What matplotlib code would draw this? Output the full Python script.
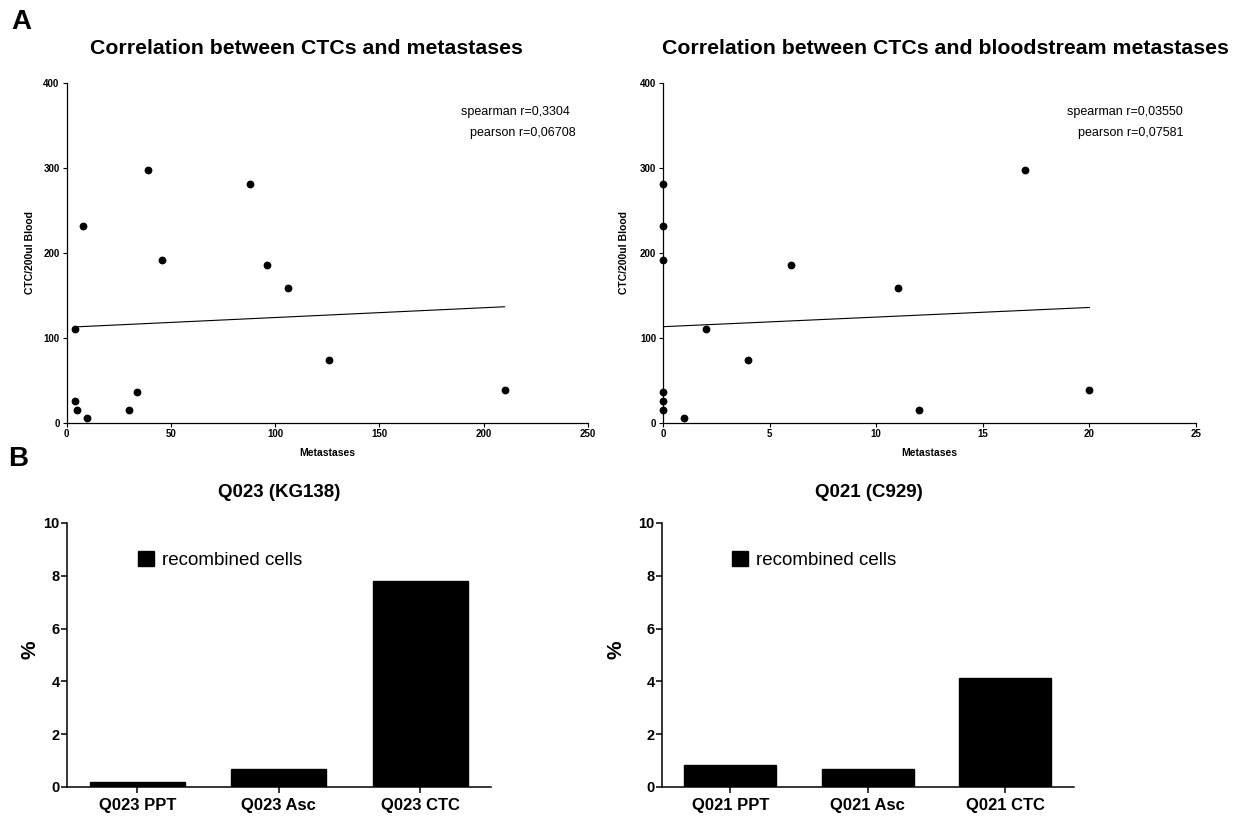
import numpy as np
import matplotlib
matplotlib.use("Agg")
import matplotlib.pyplot as plt

plt.rcParams['font.family'] = ['Liberation Sans', 'DejaVu Sans']

# panel A: metastases vs CTC/200ul blood
ctc = [110, 231, 298, 191, 281, 185, 159, 74, 38, 25, 15, 5, 15, 36]
met_all = [4, 8, 39, 46, 88, 96, 106, 126, 210, 4, 5, 10, 30, 34]
ctc_blood = [281, 231, 191, 36, 25, 15, 5, 110, 74, 185, 159, 15, 298, 38]
met_blood = [0, 0, 0, 0, 0, 0, 1, 2, 4, 6, 11, 12, 17, 20]
stats_all = ["spearman r=0,3304", "pearson r=0,06708"]
stats_blood = ["spearman r=0,03550", "pearson r=0,07581"]

# panel B: % recombined cells
q023_labels = ["Q023 PPT", "Q023 Asc", "Q023 CTC"]
q023_vals = [0.18, 0.69, 7.82]
q021_labels = ["Q021 PPT", "Q021 Asc", "Q021 CTC"]
q021_vals = [0.83, 0.68, 4.12]

W, H = 1238, 816
fig = plt.figure(figsize=(W / 100, H / 100), dpi=100)


def px_axes(x0, x1, y_top, y_bot):
    return fig.add_axes([x0 / W, 1 - y_bot / H, (x1 - x0) / W, (y_bot - y_top) / H])


def scatter_panel(ax, x, y, xmax, xticks, stats, stat_x, ylab_x):
    ax.plot(x, y, 'o', color='black', ms=4.6, zorder=3, clip_on=False)
    k, b = np.polyfit(x, y, 1)
    xs = np.array([min(x), max(x)])
    ax.plot(xs, k * xs + b, color='black', lw=0.8)
    ax.set_xlim(0, xmax)
    ax.set_ylim(0, 400)
    ax.set_xticks(xticks)
    ax.set_yticks([0, 100, 200, 300, 400])
    for s in ['top', 'right']:
        ax.spines[s].set_visible(False)
    for s in ['left', 'bottom']:
        ax.spines[s].set_linewidth(0.9)
    ax.tick_params(length=3, width=0.8, labelsize=7, pad=2)
    for lab in ax.get_xticklabels() + ax.get_yticklabels():
        lab.set_fontweight('bold')
    ax.set_xlabel("Metastases", fontsize=7.5, fontweight='bold')
    ax.xaxis.set_label_coords(0.5, -0.075)
    ax.set_ylabel("CTC/200ul Blood", fontsize=7.5, fontweight='bold')
    ax.yaxis.set_label_coords(ylab_x, 0.5)
    ax.text(stat_x[0], 0.915, stats[0], transform=ax.transAxes, ha='right', va='center', fontsize=9)
    ax.text(stat_x[1], 0.853, stats[1], transform=ax.transAxes, ha='right', va='center', fontsize=9)


def bar_panel(ax, labels, vals, legend_x, ylab_x):
    pos = np.arange(len(labels))
    ax.bar(pos, vals, width=0.67, color='black', edgecolor='black', label='recombined cells')
    ax.set_xlim(-0.5, len(labels) - 0.5)
    ax.set_ylim(0, 10)
    ax.set_xticks(pos)
    ax.set_xticklabels(labels, fontsize=12, fontweight='bold')
    ax.set_yticks([0, 2, 4, 6, 8, 10])
    for lab in ax.get_yticklabels():
        lab.set_fontweight('bold')
    for s in ['top', 'right']:
        ax.spines[s].set_visible(False)
    for s in ['left', 'bottom']:
        ax.spines[s].set_linewidth(1.1)
    ax.tick_params(axis='y', length=4, width=1.1, labelsize=10.5, pad=1)
    ax.tick_params(axis='x', length=4, width=1.1, pad=4)
    ax.set_ylabel("%", fontsize=15, fontweight='bold')
    ax.yaxis.set_label_coords(ylab_x, 0.52)
    ax.legend(loc='center left', bbox_to_anchor=(legend_x, 0.86), frameon=False,
              fontsize=13.5, handlelength=0.85, handleheight=0.9, handletextpad=0.45,
              borderpad=0, borderaxespad=0)


ax1 = px_axes(66.5, 588, 83, 422.5)
scatter_panel(ax1, met_all, ctc, 250, [0, 50, 100, 150, 200, 250], stats_all, (0.966, 0.977), -0.06)

ax2 = px_axes(663, 1196, 83, 422.5)
scatter_panel(ax2, met_blood, ctc_blood, 25, [0, 5, 10, 15, 20, 25], stats_blood, (0.976, 0.976), -0.064)

ax3 = px_axes(66.7, 491, 523, 787)
bar_panel(ax3, q023_labels, q023_vals, 0.168, -0.063)

ax4 = px_axes(661.7, 1074, 523, 787)
bar_panel(ax4, q021_labels, q021_vals, 0.1705, -0.087)

fig.text(306 / W, 1 - 48 / H, "Correlation between CTCs and metastases",
         ha='center', va='center', fontsize=15.3, fontweight='bold')
fig.text(945 / W, 1 - 48 / H, "Correlation between CTCs and bloodstream metastases",
         ha='center', va='center', fontsize=15.3, fontweight='bold')
fig.text(279 / W, 1 - 493 / H, "Q023 (KG138)", ha='center', va='center', fontsize=13.5, fontweight='bold')
fig.text(869 / W, 1 - 493 / H, "Q021 (C929)", ha='center', va='center', fontsize=13.5, fontweight='bold')
fig.text(11 / W, 1 - 22 / H, "A", ha='left', va='center', fontsize=20, fontweight='bold')
fig.text(8 / W, 1 - 459 / H, "B", ha='left', va='center', fontsize=20, fontweight='bold')

fig.savefig("out.png", dpi=100)
